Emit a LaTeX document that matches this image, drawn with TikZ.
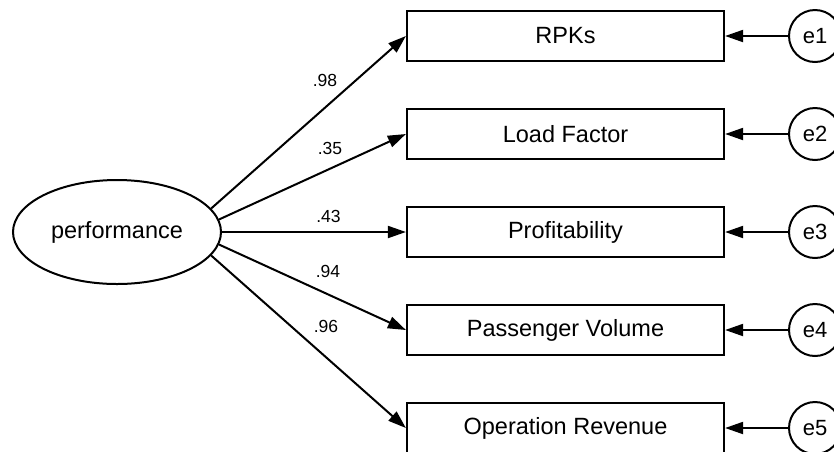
\documentclass[tikz,border=0pt]{standalone}
\usepackage{fontspec}
\setmainfont{Liberation Sans}
\usetikzlibrary{shapes.geometric,arrows.meta}

\tikzset{
  lat/.style={draw, ellipse, line width=2pt, minimum width=208pt, minimum height=104pt, inner sep=0pt, font=\fontsize{23.5}{28}\selectfont},
  obs/.style={draw, line width=2.2pt, minimum width=317pt, minimum height=50pt, inner sep=0pt, font=\fontsize{23.5}{28}\selectfont},
  err/.style={draw, circle, line width=2pt, minimum size=52pt, inner sep=0pt, font=\fontsize{22}{26}\selectfont},
  link/.style={line width=2pt, -{Triangle[length=18pt,width=12pt]}},
  wt/.style={inner sep=0pt, font=\fontsize{17.5}{20}\selectfont}
}

\begin{document}
\begin{tikzpicture}[x=1pt, y=-1pt]
    \useasboundingbox (0,0) rectangle (834,451);
    \node[lat] (perf) at (117,232) {performance};
    \node[obs] (rpk) at (565.5,36) {RPKs};
    \node[obs] (load) at (565.5,134) {Load Factor};
    \node[obs] (prof) at (565.5,232) {Profitability};
    \node[obs] (pass) at (565.5,330) {Passenger Volume};
    \node[obs] (rev) at (565.5,428) {Operation Revenue};
    \node[err] (e1) at (815,36) {e1};
    \node[err] (e2) at (815,134) {e2};
    \node[err] (e3) at (815,232) {e3};
    \node[err] (e4) at (815,330) {e4};
    \node[err] (e5) at (815,428) {e5};
    \draw[link] (perf.14.5) -- (rpk.west);
    \draw[link] (perf.7.6) -- (load.west);
    \draw[link] (perf.0) -- (prof.west);
    \draw[link] (perf.-7.6) -- (pass.west);
    \draw[link] (perf.-14.5) -- (rev.west);
    \draw[link] (e1) -- (rpk.east);
    \draw[link] (e2) -- (load.east);
    \draw[link] (e3) -- (prof.east);
    \draw[link] (e4) -- (pass.east);
    \draw[link] (e5) -- (rev.east);
    \node[wt] (w1) at (325,80.5) {.98};
    \node[wt] (w2) at (330,148) {.35};
    \node[wt] (w3) at (328.5,216.5) {.43};
    \node[wt] (w4) at (328,271.5) {.94};
    \node[wt] (w5) at (326,326.5) {.96};
\end{tikzpicture}
\end{document}
